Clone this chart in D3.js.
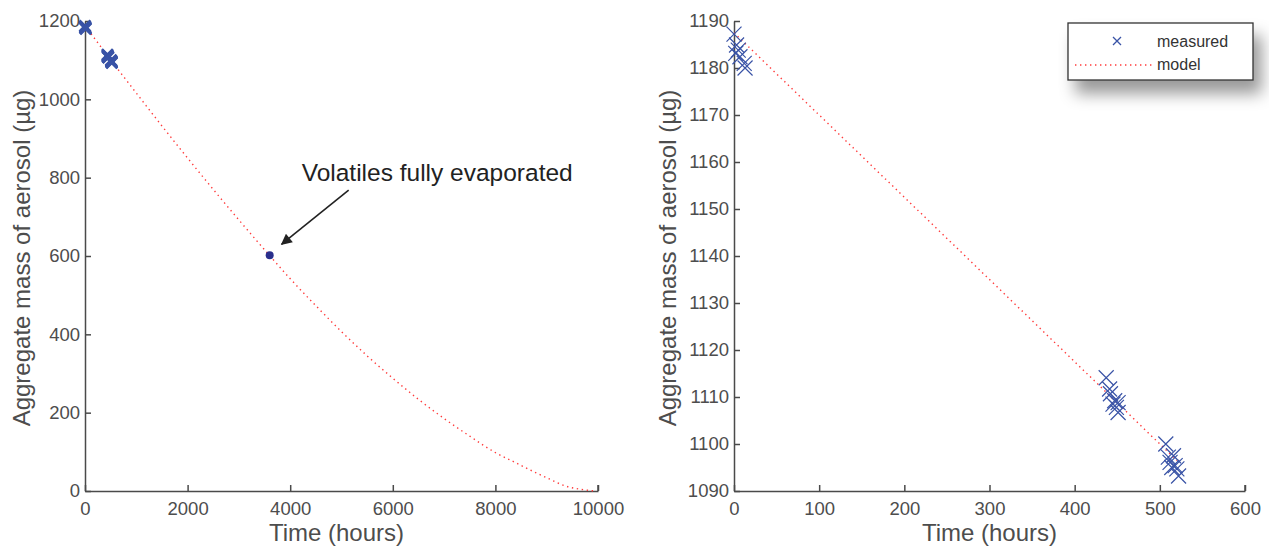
<!DOCTYPE html>
<html lang="en">
<head>
<meta charset="UTF-8">
<title>Aerosol mass</title>
<script src="https://cdn.jsdelivr.net/npm/d3@7"></script>
<style>
  body { margin: 0; background: #fff; }
  svg text { font-family: "Liberation Sans", Arial, sans-serif; }
  .axis path, .axis line { stroke: #4a4a4a; stroke-width: 1.5px; }
  .axis text { fill: #4d4d4d; font-size: 18.5px; }
  .title { fill: #4d4d4d; font-size: 24px; }
  .model { fill: none; stroke: #ff3b3b; stroke-width: 1.4px; stroke-dasharray: 1.4,3.6; }
</style>
</head>
<body>
<script>
// measured samples (hours, micrograms)
var measT = [0, 3, 5, 2, 7, 12, 13, 437, 441, 442, 447, 451, 445, 449, 451, 507, 510, 516, 512, 518, 514, 520, 522];
var measM = [1187.2, 1184.9, 1183.8, 1183.1, 1182.4, 1181, 1180, 1114.1, 1111.7, 1110.7, 1109.2, 1108.8, 1108.5, 1107.8, 1106.7, 1100, 1097.2, 1097.5, 1096.1, 1095.4, 1095, 1094.7, 1093.2];

// model curve, full range
var modelT = [0, 500, 1000, 1500, 2000, 2500, 3000, 3600, 4000, 4500, 5000, 5500, 6000, 6500, 7000, 7500, 8000, 8400, 8720, 9030, 9360, 9680, 9940];
var modelM = [1188, 1101, 1016, 932, 850, 770, 692, 601, 542, 473, 407, 345, 288, 234, 185, 140, 98, 72, 51, 32, 13, 4, 0];

// model curve, first 520 hours
var zoomT = [0, 100, 200, 300, 400, 520];
var zoomM = [1187.5, 1170, 1152.5, 1135, 1117.5, 1096.5];

// point where volatiles are gone
var evapT = 3600, evapM = 602;

var leftXTicks = [0, 2000, 4000, 6000, 8000, 10000];
var leftYTicks = [0, 200, 400, 600, 800, 1000, 1200];
var rightXTicks = [0, 100, 200, 300, 400, 500, 600];
var rightYTicks = [1090, 1100, 1110, 1120, 1130, 1140, 1150, 1160, 1170, 1180, 1190];

var measured = measT.map(function(t, i){ return {t: t, m: measM[i]}; });
var modelFull = modelT.map(function(t, i){ return {t: t, m: modelM[i]}; });
var modelZoom = zoomT.map(function(t, i){ return {t: t, m: zoomM[i]}; });

var width = 1269, height = 548;
var blue = "#3953a6";

var svg = d3.select("body").append("svg")
  .attr("width", width).attr("height", height);

var defs = svg.append("defs");
defs.append("marker")
  .attr("id", "arrow").attr("viewBox", "0 0 10 10")
  .attr("refX", 9).attr("refY", 5)
  .attr("markerWidth", 16).attr("markerHeight", 11)
  .attr("markerUnits", "userSpaceOnUse")
  .attr("orient", "auto")
  .append("path").attr("d", "M0,0L10,5L0,10z").attr("fill", "#222");
var shadow = defs.append("filter").attr("id", "shadow")
  .attr("x", "-20%").attr("y", "-30%").attr("width", "150%").attr("height", "210%");
shadow.append("feDropShadow").attr("dx", 8).attr("dy", 13)
  .attr("stdDeviation", 8).attr("flood-color", "#000").attr("flood-opacity", 0.4);

function cross(g, data, x, y, half, sw) {
  g.selectAll(null).data(data).enter().append("path")
    .attr("d", function(d){
      var cx = x(d.t), cy = y(d.m);
      return "M" + (cx-half) + "," + (cy-half) + "L" + (cx+half) + "," + (cy+half) +
             "M" + (cx-half) + "," + (cy+half) + "L" + (cx+half) + "," + (cy-half);
    })
    .attr("stroke", blue).attr("stroke-width", sw).attr("fill", "none");
}

function panel(opt) {
  var x = d3.scaleLinear().domain(opt.xDomain).range(opt.xRange);
  var y = d3.scaleLinear().domain(opt.yDomain).range([491, 21]);
  var g = svg.append("g");

  g.append("g").attr("class", "axis")
    .attr("transform", "translate(0," + y.range()[0] + ")")
    .call(d3.axisBottom(x).tickValues(opt.xTicks).tickSizeInner(-6).tickSizeOuter(0).tickPadding(11).tickFormat(d3.format("d")));
  g.append("g").attr("class", "axis")
    .attr("transform", "translate(" + x.range()[0] + ",0)")
    .call(d3.axisLeft(y).tickValues(opt.yTicks).tickSizeInner(-6).tickSizeOuter(0).tickPadding(5).tickFormat(d3.format("d")));
  // end tick on right of x axis
  g.append("line").attr("x1", x.range()[1]).attr("x2", x.range()[1])
    .attr("y1", y.range()[0]).attr("y2", y.range()[0] - 6)
    .attr("stroke", "#4a4a4a").attr("stroke-width", 1.5);

  g.append("text").attr("class", "title")
    .attr("x", (x.range()[0] + x.range()[1]) / 2 + opt.xTitleShift).attr("y", 541)
    .attr("text-anchor", "middle").text("Time (hours)");
  g.append("text").attr("class", "title")
    .attr("transform", "translate(" + opt.yTitleX + ",258) rotate(-90)")
    .attr("text-anchor", "middle").text("Aggregate mass of aerosol (µg)");

  var line = d3.line().x(function(d){ return x(d.t); }).y(function(d){ return y(d.m); })
    .curve(d3.curveMonotoneX);
  g.append("path").attr("class", "model").attr("d", line(opt.model));

  cross(g, measured, x, y, opt.half, opt.sw);
  return {g: g, x: x, y: y};
}

var left = panel({
  xDomain: [0, 10000], xRange: [85, 598], yDomain: [0, 1200],
  xTicks: leftXTicks, yTicks: leftYTicks, model: modelFull,
  half: 5.5, sw: 2.6, yTitleX: 30, xTitleShift: -5
});
var right = panel({
  xDomain: [0, 600], xRange: [734, 1245], yDomain: [1090, 1190],
  xTicks: rightXTicks, yTicks: rightYTicks, model: modelZoom,
  half: 7.5, sw: 1.2, yTitleX: 676, xTitleShift: 0
});

// evaporation point and annotation
var lx = left.x, ly = left.y;
left.g.append("circle").attr("cx", lx(evapT)).attr("cy", ly(evapM)).attr("r", 4)
  .attr("fill", "#2a2f8c");
left.g.append("line")
  .attr("x1", lx(evapT) + 79).attr("y1", ly(evapM) - 65)
  .attr("x2", lx(evapT) + 12).attr("y2", ly(evapM) - 11)
  .attr("stroke", "#222").attr("stroke-width", 1.6)
  .attr("marker-end", "url(#arrow)");
left.g.append("text")
  .attr("x", lx(evapT) + 32).attr("y", ly(evapM) - 74)
  .attr("font-size", 24.5).attr("fill", "#222")
  .text("Volatiles fully evaporated");

// legend
var leg = svg.append("g").attr("transform", "translate(1068,23)");
leg.append("rect").attr("width", 185).attr("height", 57)
  .attr("fill", "#fff").attr("stroke", "#333").attr("stroke-width", 1.3)
  .attr("filter", "url(#shadow)");
leg.append("path")
  .attr("d", "M45,14L53,22M45,22L53,14")
  .attr("stroke", blue).attr("stroke-width", 1.3);
leg.append("line").attr("x1", 7).attr("x2", 86).attr("y1", 42).attr("y2", 42)
  .attr("class", "model");
leg.selectAll(null).data(["measured", "model"]).enter().append("text")
  .attr("x", 89).attr("y", function(d, i){ return 24 + i * 23; })
  .attr("font-size", 16).attr("fill", "#333").text(function(d){ return d; });
</script>
</body>
</html>
